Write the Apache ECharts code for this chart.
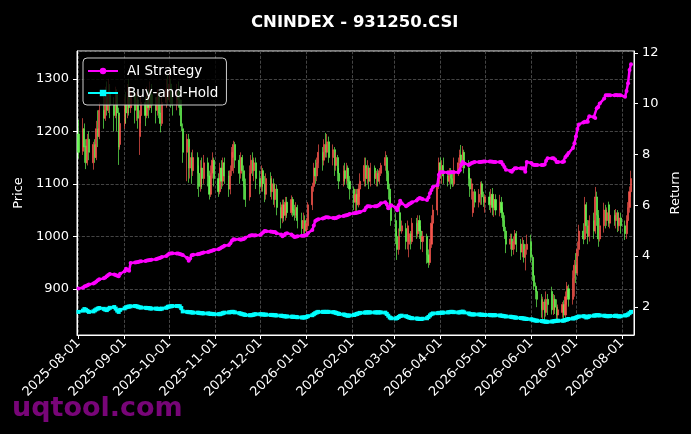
<!DOCTYPE html>
<html>
<head>
<meta charset="utf-8">
<title>CNINDEX - 931250.CSI</title>
<script src="https://cdn.jsdelivr.net/npm/echarts@6.0.0/dist/echarts.min.js"></script>
<style>
html, body { margin: 0; padding: 0; background: #000; }
#chart { width: 691px; height: 434px; }
</style>
</head>
<body>
<div id="chart"></div>
<script>
// first trading day, candles run on weekdays from here
var startDay = '2025-08-01';

// [open, close, low, high]
var priceOHLC = [
    [1195,1160,1148,1222],[1162,1205,1155,1225],[1205,1170,1140,1215],[1172,1140,1128,1185],[1140,1185,1135,1195],
    [1185,1160,1145,1200],[1140,1175,1127,1180],[1175,1150,1140,1185],[1150,1205,1145,1220],[1205,1190,1170,1240],
    [1190,1240,1185,1255],[1240,1225,1205,1270],[1225,1265,1220,1285],[1265,1240,1230,1295],[1240,1275,1235,1300],
    [1275,1250,1225,1290],[1250,1230,1200,1265],[1230,1270,1225,1285],[1270,1235,1200,1280],[1235,1170,1136,1245],
    [1175,1215,1165,1230],[1215,1250,1205,1265],[1250,1235,1215,1275],[1235,1265,1225,1290],[1265,1245,1230,1300],
    [1245,1270,1235,1285],[1270,1240,1215,1280],[1240,1260,1220,1275],[1260,1225,1205,1270],[1190,1230,1155,1240],
    [1230,1255,1215,1270],[1255,1230,1210,1265],[1230,1265,1225,1285],[1265,1245,1225,1280],[1245,1270,1240,1295],
    [1270,1250,1235,1290],[1250,1240,1215,1265],[1240,1265,1230,1280],[1265,1235,1225,1275],[1235,1215,1198,1250],
    [1215,1255,1210,1270],[1255,1280,1245,1300],[1280,1260,1250,1310],[1260,1290,1255,1315],[1290,1265,1245,1300],
    [1265,1250,1230,1275],[1250,1275,1240,1290],[1275,1260,1245,1295],[1260,1245,1230,1280],[1245,1210,1200,1260],
    [1205,1160,1140,1215],[1160,1185,1105,1195],[1185,1130,1102,1195],[1130,1150,1110,1170],[1150,1125,1100,1160],
    [1125,1150,1115,1165],[1150,1120,1090,1160],[1120,1095,1075,1135],[1095,1130,1085,1145],[1130,1110,1090,1150],
    [1110,1140,1100,1155],[1140,1115,1095,1150],[1115,1080,1070,1125],[1080,1120,1075,1135],[1120,1145,1110,1160],
    [1145,1110,1095,1150],[1110,1085,1075,1120],[1085,1130,1080,1140],[1130,1105,1090,1145],[1105,1140,1095,1150],
    [1140,1115,1100,1150],[1115,1090,1075,1125],[1090,1125,1080,1135],[1125,1160,1115,1170],[1150,1175,1120,1182],
    [1175,1145,1130,1180],[1145,1120,1100,1155],[1120,1150,1110,1160],[1150,1125,1105,1155],[1125,1095,1070,1135],
    [1095,1070,1056,1110],[1075,1120,1068,1135],[1120,1145,1105,1155],[1145,1125,1115,1160],[1125,1140,1105,1150],
    [1140,1110,1090,1150],[1110,1095,1080,1125],[1095,1125,1085,1135],[1125,1100,1085,1130],[1100,1080,1065,1115],
    [1080,1110,1070,1120],[1110,1085,1075,1122],[1085,1100,1070,1115],[1100,1070,1060,1110],[1070,1090,1055,1100],
    [1090,1055,1040,1098],[1055,1035,1015,1065],[1035,1060,1025,1070],[1060,1040,1028,1070],[1040,1065,1030,1075],
    [1065,1045,1035,1075],[1045,1070,1040,1078],[1070,1050,1037,1075],[1050,1040,1030,1060],[1040,1055,1035,1065],
    [1055,1030,1015,1060],[1030,1015,1000,1045],[1015,1030,1005,1045],[1030,1010,998,1040],[1010,1025,1000,1035],
    [1020,1060,1012,1065],[1060,1095,1050,1102],[1095,1130,1085,1140],[1130,1115,1100,1146],[1115,1140,1105,1150],
    [1140,1160,1130,1175],[1160,1145,1125,1170],[1145,1175,1135,1185],[1175,1160,1150,1197],[1160,1180,1150,1195],
    [1180,1150,1140,1190],[1150,1165,1135,1175],[1165,1135,1115,1170],[1135,1150,1125,1160],[1150,1120,1105,1155],
    [1120,1105,1090,1130],[1105,1125,1095,1135],[1125,1110,1098,1140],[1110,1130,1100,1140],[1130,1105,1092,1135],
    [1105,1090,1070,1115],[1090,1065,1050,1095],[1065,1080,1045,1090],[1080,1060,1048,1090],[1060,1090,1055,1100],
    [1090,1105,1075,1120],[1105,1135,1095,1150],[1135,1110,1095,1150],[1110,1130,1100,1145],[1130,1105,1090,1135],
    [1105,1130,1095,1140],[1130,1110,1100,1135],[1110,1120,1095,1125],[1120,1105,1095,1128],[1105,1125,1100,1130],
    [1120,1135,1115,1140],[1135,1150,1125,1162],[1150,1120,1105,1155],[1120,1090,1070,1125],[1090,1060,1050,1100],
    [1060,1030,1020,1075],[1030,1000,985,1045],[1000,975,955,1010],[975,1000,965,1015],[1045,1010,1000,1056],
    [1010,1020,1005,1030],[1015,990,975,1025],[990,1020,975,1030],[985,1005,960,1015],[1005,990,975,1010],
    [990,1025,985,1035],[1025,1005,995,1035],[1005,1030,998,1040],[1030,1010,995,1040],[1010,990,975,1020],
    [990,1000,970,1010],[1000,965,948,1005],[965,950,940,975],[950,985,945,995],[985,1025,978,1040],
    [1025,1050,1015,1060],[1050,1100,1040,1110],[1100,1140,1090,1150],[1140,1120,1110,1150],[1120,1135,1100,1145],
    [1135,1115,1100,1150],[1115,1105,1095,1125],[1105,1125,1100,1130],[1125,1110,1090,1130],[1110,1100,1094,1120],
    [1100,1125,1095,1150],[1125,1140,1115,1150],[1140,1155,1130,1165],[1155,1140,1125,1174],[1140,1160,1130,1172],
    [1160,1130,1120,1165],[1130,1110,1095,1145],[1110,1090,1075,1120],[1090,1100,1070,1110],[1045,1085,1037,1090],
    [1085,1065,1055,1090],[1065,1080,1055,1090],[1080,1100,1060,1104],[1100,1075,1060,1105],[1075,1065,1056,1085],
    [1065,1075,1045,1080],[1075,1060,1050,1085],[1060,1080,1045,1090],[1080,1055,1040,1092],[1055,1070,1037,1080],
    [1070,1050,1040,1080],[1050,1065,1038,1079],[1065,1045,1035,1075],[1045,1030,1018,1055],[1030,1010,995,1040],
    [1010,985,968,1018],[985,995,975,1005],[995,975,962,1005],[975,990,965,1000],[985,1005,975,1012],
    [1005,985,970,1010],[985,970,955,995],[970,985,960,998],[985,960,950,993],[960,975,935,985],
    [975,985,965,1003],[990,960,950,1003],[960,925,915,965],[925,905,898,935],[905,895,880,912],
    [895,880,865,900],[880,860,845,890],[860,875,840,885],[875,855,838,880],[855,880,847,895],
    [880,870,850,890],[895,860,851,904],[860,880,850,890],[880,865,852,888],[865,850,842,880],
    [850,860,840,870],[855,870,845,875],[870,850,842,878],[850,885,845,895],[885,905,870,913],
    [900,880,866,908],[880,920,870,935],[920,945,885,955],[945,930,911,968],[930,975,925,990],
    [975,1010,962,1022],[1010,995,985,1025],[995,1060,993,1075],[1060,1020,1005,1065],[1020,1000,985,1031],
    [1000,1030,990,1040],[1030,1010,995,1045],[1010,1075,1005,1094],[1075,1040,1020,1085],[1040,995,980,1050],
    [995,1020,990,1035],[1020,1050,1007,1064],[1050,1030,1015,1060],[1030,1045,1020,1055],[1060,1025,1018,1066],
    [1025,1040,1015,1050],[1040,1030,1020,1050],[1030,1045,1015,1052],[1045,1020,1008,1050],[1020,1035,1010,1045],
    [1035,1020,1005,1045],[1020,1005,993,1030],[1005,1030,995,1040],[1030,1055,1025,1065],[1055,1085,1045,1095],
    [1085,1110,1075,1125]
];

var aiReturn = [
    2.72,2.75,2.80,2.82,2.85,2.88,2.92,2.95,3.00,3.05,
    3.08,3.12,3.15,3.20,3.25,3.29,3.27,3.25,3.22,3.20,
    3.30,3.40,3.50,3.45,3.42,3.72,3.74,3.75,3.76,3.78,
    3.79,3.80,3.82,3.83,3.84,3.85,3.87,3.89,3.91,3.93,
    3.96,4.00,4.05,4.10,4.10,4.11,4.10,4.10,4.08,4.06,
    4.04,3.92,3.81,3.90,4.03,4.05,4.07,4.08,4.10,4.12,
    4.14,4.16,4.18,4.20,4.22,4.24,4.27,4.30,4.33,4.36,
    4.40,4.43,4.50,4.60,4.66,4.65,4.66,4.64,4.66,4.67,
    4.72,4.80,4.82,4.82,4.81,4.82,4.83,4.88,4.93,4.98,
    4.97,4.96,4.95,4.94,4.94,4.90,4.85,4.78,4.82,4.88,
    4.90,4.85,4.80,4.75,4.76,4.78,4.80,4.80,4.81,4.82,
    4.90,5.02,5.20,5.38,5.42,5.45,5.48,5.50,5.53,5.53,
    5.52,5.50,5.49,5.50,5.53,5.55,5.57,5.59,5.60,5.62,
    5.65,5.68,5.69,5.70,5.72,5.73,5.80,5.90,5.96,5.96,
    5.95,5.96,5.96,5.98,6.02,6.08,6.12,6.05,5.88,5.95,
    6.00,5.90,5.80,6.00,6.17,6.08,5.96,6.00,6.05,6.08,
    6.12,6.18,6.24,6.28,6.26,6.24,6.20,6.30,6.47,6.60,
    6.72,6.79,7.20,7.30,7.30,7.30,7.29,7.28,7.30,7.30,
    7.30,7.30,7.38,7.60,7.70,7.64,7.58,7.62,7.66,7.68,
    7.70,7.70,7.70,7.71,7.72,7.72,7.72,7.72,7.71,7.70,
    7.70,7.70,7.70,7.60,7.50,7.40,7.35,7.32,7.40,7.45,
    7.45,7.45,7.44,7.45,7.32,7.70,7.66,7.60,7.58,7.58,
    7.58,7.58,7.58,7.60,7.75,7.85,7.85,7.85,7.80,7.70,
    7.70,7.70,7.72,7.90,7.97,8.05,8.25,8.44,8.70,9.00,
    9.18,9.26,9.28,9.28,9.28,9.50,9.47,9.43,9.82,9.87,
    10.00,10.20,10.33,10.33,10.33,10.33,10.33,10.34,10.33,10.33,
    10.33,10.27,10.50,10.80,11.32,11.55
];

var bhReturn = [
    1.80,1.85,1.91,1.88,1.84,1.80,1.82,1.86,1.90,1.93,
    1.95,1.92,1.89,1.87,1.92,1.96,1.99,1.93,1.85,1.80,
    1.88,1.94,1.98,2.00,2.01,2.02,2.03,2.02,2.00,1.98,
    1.97,1.96,1.95,1.95,1.94,1.93,1.93,1.92,1.92,1.91,
    1.93,1.96,2.00,2.01,2.02,2.03,2.03,2.03,2.02,1.95,
    1.82,1.80,1.79,1.79,1.78,1.77,1.77,1.76,1.75,1.75,
    1.74,1.74,1.73,1.72,1.72,1.71,1.71,1.71,1.73,1.75,
    1.77,1.78,1.79,1.80,1.80,1.78,1.75,1.73,1.71,1.70,
    1.68,1.67,1.67,1.68,1.70,1.71,1.71,1.70,1.70,1.69,
    1.69,1.68,1.68,1.67,1.67,1.66,1.65,1.64,1.63,1.62,
    1.62,1.61,1.61,1.60,1.60,1.59,1.58,1.58,1.58,1.60,
    1.63,1.67,1.71,1.75,1.78,1.80,1.80,1.80,1.80,1.80,
    1.80,1.79,1.78,1.76,1.74,1.72,1.70,1.68,1.66,1.65,
    1.66,1.68,1.70,1.72,1.74,1.76,1.77,1.78,1.78,1.78,
    1.78,1.78,1.78,1.78,1.78,1.78,1.77,1.72,1.65,1.58,
    1.55,1.54,1.56,1.60,1.64,1.65,1.63,1.60,1.58,1.56,
    1.55,1.54,1.53,1.52,1.52,1.53,1.55,1.60,1.66,1.71,
    1.74,1.75,1.76,1.76,1.77,1.77,1.78,1.79,1.80,1.80,
    1.79,1.78,1.78,1.80,1.81,1.78,1.74,1.71,1.70,1.70,
    1.70,1.70,1.69,1.69,1.68,1.68,1.68,1.67,1.67,1.67,
    1.67,1.66,1.65,1.64,1.63,1.62,1.61,1.60,1.59,1.58,
    1.57,1.56,1.55,1.54,1.53,1.52,1.51,1.49,1.47,1.46,
    1.45,1.44,1.43,1.42,1.41,1.41,1.42,1.43,1.44,1.45,
    1.45,1.45,1.46,1.48,1.50,1.52,1.54,1.55,1.57,1.60,
    1.62,1.63,1.62,1.58,1.60,1.63,1.65,1.66,1.67,1.67,
    1.66,1.65,1.64,1.63,1.63,1.64,1.64,1.65,1.63,1.62,
    1.63,1.66,1.67,1.70,1.75,1.80
];

// weekdays from startDay, one per candle
function tradingDays(start, n) {
    var out = [];
    var d = new Date(start + 'T00:00:00');
    while (out.length < n) {
        var wd = d.getDay();
        if (wd !== 0 && wd !== 6) {
            var m = d.getMonth() + 1, day = d.getDate();
            out.push(d.getFullYear() + '-' + (m < 10 ? '0' + m : m) + '-' + (day < 10 ? '0' + day : day));
        }
        d.setDate(d.getDate() + 1);
    }
    return out;
}
var tradeDates = tradingDays(startDay, priceOHLC.length);

var font = 'DejaVu Sans';
var dayMs = 24 * 3600 * 1000;
var upColor = '#f5554c';
var downColor = '#66f552';

var chart = echarts.init(document.getElementById('chart'), null, {renderer: 'canvas'});

var option = {
    backgroundColor: '#000',
    animation: false,
    textStyle: {fontFamily: font, color: '#fff'},
    title: {
        text: 'CNINDEX - 931250.CSI',
        left: 246, top: 9,
        textStyle: {color: '#fff', fontSize: 16.5, fontWeight: 'bold', fontFamily: font}
    },
    legend: {
        data: ['AI Strategy', 'Buy-and-Hold'],
        orient: 'vertical',
        left: 83, top: 58,
        padding: [6, 8, 5, 4],
        itemGap: 8,
        itemWidth: 30, itemHeight: 8,
        backgroundColor: 'rgba(0,0,0,0.8)',
        borderColor: '#cccccc', borderWidth: 1, borderRadius: 4,
        textStyle: {color: '#fff', fontSize: 13.5, fontFamily: font, padding: [0, 0, 0, 4]}
    },
    grid: {left: 77, right: 57, top: 51, bottom: 99, show: true, borderColor: '#fff', borderWidth: 1},
    xAxis: {
        type: 'time',
        min: '2025-07-31',
        max: '2026-08-09',
        minInterval: 28 * dayMs,
        maxInterval: 31 * dayMs,
        axisLine: {lineStyle: {color: '#fff'}},
        axisTick: {show: true, length: 4, lineStyle: {color: '#fff'}},
        axisLabel: {
            color: '#fff', fontSize: 13, fontFamily: font, rotate: 45, margin: 6,
            hideOverlap: false, showMinLabel: false, showMaxLabel: false,
            formatter: '{yyyy}-{MM}-{dd}'
        },
        splitLine: {show: true, lineStyle: {color: '#555', type: 'dashed', width: 0.8}}
    },
    yAxis: [{
        type: 'value',
        name: 'Price',
        nameLocation: 'middle',
        nameGap: 49,
        nameTextStyle: {color: '#fff', fontSize: 13, fontFamily: font},
        min: 812, max: 1353,
        splitNumber: 5,
        axisLine: {show: true, lineStyle: {color: '#fff'}},
        axisTick: {show: true, length: 4, lineStyle: {color: '#fff'}},
        axisLabel: {
            color: '#fff', fontSize: 13, fontFamily: font, showMinLabel: false, showMaxLabel: false,
            formatter: function (v) { return String(v); }
        },
        splitLine: {show: true, lineStyle: {color: '#555', type: 'dashed', width: 0.8}}
    }, {
        type: 'value',
        name: 'Return',
        nameLocation: 'middle',
        nameGap: 31,
        nameTextStyle: {color: '#fff', fontSize: 13, fontFamily: font},
        min: 0.89, max: 12.07,
        splitNumber: 5,
        position: 'right',
        axisLine: {show: true, lineStyle: {color: '#fff'}},
        axisTick: {show: true, length: 4, lineStyle: {color: '#fff'}},
        axisLabel: {color: '#fff', fontSize: 13, fontFamily: font, showMinLabel: false, showMaxLabel: false},
        splitLine: {show: false}
    }],
    graphic: [{
        type: 'text',
        left: 12, top: 395,
        z: 100,
        style: {text: 'uqtool.com', fill: 'rgba(130,5,130,0.92)', font: 'bold 27px "DejaVu Sans"'}
    }],
    series: [{
        name: 'Price',
        type: 'candlestick',
        yAxisIndex: 0,
        barWidth: 1.6,
        encode: {x: 0, y: [1, 2, 3, 4]},
        data: tradeDates.map(function (d, i) { return [d].concat(priceOHLC[i]); }),
        itemStyle: {
            color: upColor, color0: downColor,
            borderColor: upColor, borderColor0: downColor,
            borderWidth: 0.7
        },
        z: 1
    }, {
        name: 'AI Strategy',
        type: 'line',
        yAxisIndex: 1,
        data: tradeDates.map(function (d, i) { return [d, aiReturn[i]]; }),
        symbol: 'circle', symbolSize: 4, showSymbol: true,
        itemStyle: {color: '#ff00ff'},
        lineStyle: {color: '#ff00ff', width: 2.5},
        z: 3
    }, {
        name: 'Buy-and-Hold',
        type: 'line',
        yAxisIndex: 1,
        data: tradeDates.map(function (d, i) { return [d, bhReturn[i]]; }),
        symbol: 'rect', symbolSize: 4, showSymbol: true,
        itemStyle: {color: '#00ffff'},
        lineStyle: {color: '#00ffff', width: 2.5},
        z: 3
    }]
};

chart.setOption(option);
</script>
</body>
</html>
